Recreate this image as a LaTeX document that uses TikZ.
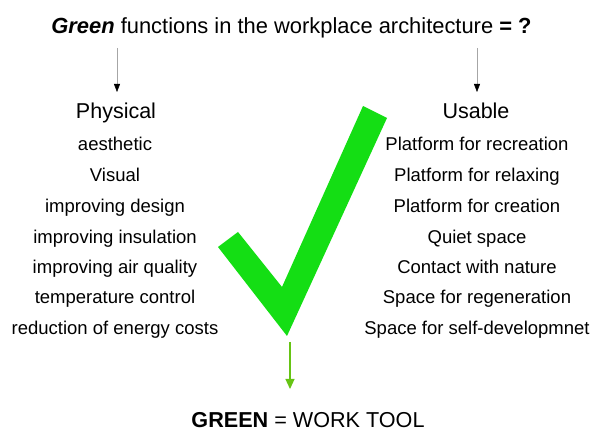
\documentclass[tikz,border=0pt]{standalone}
\usepackage{fontspec}
\setmainfont{Liberation Sans}
\usetikzlibrary{arrows.meta}
\definecolor{checkgreen}{RGB}{20,222,20}
\definecolor{arrowgreen}{RGB}{102,196,20}
\tikzset{
  item/.style={inner sep=0pt, anchor=base, font=\fontsize{18.5}{20}\selectfont},
  head/.style={inner sep=0pt, anchor=base, font=\fontsize{21.5}{24}\selectfont},
  thinarrow/.style={draw=gray!70, line width=0.5pt, -{Triangle[length=8pt,width=6pt,fill=black,color=black]}},
}
\begin{document}
\begin{tikzpicture}[x=1pt,y=1pt]
\useasboundingbox (0,0) rectangle (592,434);
% title
\node[inner sep=0pt, anchor=base, font=\fontsize{21.9}{24}\selectfont] (title) at (291.5,434-34) {\textbf{\textit{Green}} functions in the workplace architecture \textbf{= ?}};
\coordinate (ls) at (117,434-48);
\coordinate (rs) at (477,434-48);
% headers
\node[head] (phys) at (116,434-119) {Physical};
\node[head] (usab) at (476,434-119) {Usable};
\draw[thinarrow] (ls) -- (117,434-92);
\draw[thinarrow] (rs) -- (477,434-92);
% left column
\node[item] (l1) at (115,434-151) {aesthetic};
\node[item] (l2) at (115,434-182) {Visual};
\node[item] (l3) at (115,434-213) {improving design};
\node[item] (l4) at (115,434-244) {improving insulation};
\node[item] (l5) at (115,434-274) {improving air quality};
\node[item] (l6) at (115,434-304) {temperature control};
\node[item] (l7) at (115,434-335) {reduction of energy costs};
% right column
\node[item] (r1) at (477,434-151) {Platform for recreation};
\node[item] (r2) at (477,434-182) {Platform for relaxing};
\node[item] (r3) at (477,434-213) {Platform for creation};
\node[item] (r4) at (477,434-244) {Quiet space};
\node[item] (r5) at (477,434-274) {Contact with nature};
\node[item] (r6) at (477,434-304) {Space for regeneration};
\node[item] (r7) at (477,434-335) {Space for self-developmnet};
% check mark
\fill[checkgreen] (218,434-247) -- (238,434-232) -- (282,434-287) -- (363,434-106) -- (387,434-118) -- (287,434-336) -- cycle;
% bottom
\coordinate (gs) at (290,434-342);
\node[inner sep=0pt, anchor=base, font=\fontsize{21.6}{24}\selectfont] (tool) at (308,434-428) {\textbf{GREEN} = WORK TOOL};
\draw[arrowgreen, line width=1.2pt, -{Triangle[length=10pt,width=9pt]}] (gs) -- (290,434-389);
\end{tikzpicture}
\end{document}
